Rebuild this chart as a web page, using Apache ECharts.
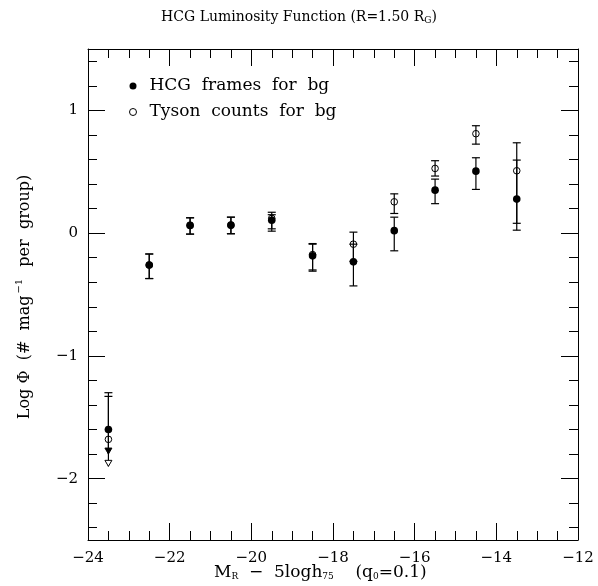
<!DOCTYPE html>
<html>
<head>
<meta charset="utf-8">
<script src="https://cdn.jsdelivr.net/npm/echarts@6/dist/echarts.min.js"></script>
<style>
  html, body { margin: 0; padding: 0; background: #fff; }
  #chart { width: 598px; height: 586px; }
</style>
</head>
<body>
<div id="chart"></div>
<script>
// Magnitude bins (M_R - 5 log h75)
const bins = [-23.5, -22.5, -21.5, -20.5, -19.5, -18.5, -17.5, -16.5, -15.5, -14.5, -13.5];

// HCG frames used for the background
const hcgVal = [-1.60, -0.26, 0.063, 0.065, 0.105, -0.185, -0.234, 0.020, 0.350, 0.505, 0.277];
const hcgHi  = [-1.33, -0.17, 0.125, 0.130, 0.150, -0.090, -0.090, 0.130, 0.440, 0.614, 0.595];
const hcgLo  = [-1.80, -0.37, -0.008, -0.005, 0.016, -0.310, -0.430, -0.144, 0.240, 0.356, 0.024];
const hcgLimit = [1, 0, 0, 0, 0, 0, 0, 0, 0, 0, 0];   // 1 = lower end is an arrow

// Tyson counts used for the background
const tysVal = [-1.68, -0.26, 0.063, 0.065, 0.120, -0.175, -0.090, 0.255, 0.527, 0.810, 0.508];
const tysHi  = [-1.30, -0.17, 0.125, 0.130, 0.170, -0.085, 0.008, 0.320, 0.590, 0.875, 0.736];
const tysLo  = [-1.90, -0.37, -0.008, -0.005, 0.035, -0.300, -0.230, 0.160, 0.465, 0.725, 0.080];
const tysLimit = [1, 0, 0, 0, 0, 0, 0, 0, 0, 0, 0];

// Axis ticks
const yMajor = [-2, -1, 0, 1];
const yMinor = [-2.4, -2.2, -1.8, -1.6, -1.4, -1.2, -0.8, -0.6, -0.4, -0.2,
                0.2, 0.4, 0.6, 0.8, 1.2, 1.4];

const FONT = 'DejaVu Serif';
const minus = v => String(v).replace('-', '\u2212');

function errorBars(filled) {
  return function (params, api) {
    const x = api.value(0), v = api.value(1), lo = api.value(2), hi = api.value(3), lim = api.value(4);
    const pv = api.coord([x, v]);
    const pt = api.coord([x, hi]);
    const pb = api.coord([x, lo]);
    const cw = 4;
    const ln = { stroke: '#000', lineWidth: 1.2 };
    const kids = [
      { type: 'line', shape: { x1: pt[0], y1: pt[1], x2: pb[0], y2: pb[1] }, style: ln },
      { type: 'line', shape: { x1: pt[0] - cw, y1: pt[1], x2: pt[0] + cw, y2: pt[1] }, style: ln }
    ];
    if (lim) {
      kids.push({
        type: 'polygon',
        shape: { points: [[pb[0] - 3.5, pb[1] - 6], [pb[0] + 3.5, pb[1] - 6], [pb[0], pb[1]]] },
        style: { fill: filled ? '#000' : '#fff', stroke: '#000', lineWidth: 1 }
      });
    } else {
      kids.push({ type: 'line', shape: { x1: pb[0] - cw, y1: pb[1], x2: pb[0] + cw, y2: pb[1] }, style: ln });
    }
    kids.push(filled
      ? { type: 'circle', shape: { cx: pv[0], cy: pv[1], r: 3.8 }, style: { fill: '#000' } }
      : { type: 'circle', shape: { cx: pv[0], cy: pv[1], r: 3.3 }, style: { fill: 'none', stroke: '#000', lineWidth: 1 } });
    return { type: 'group', children: kids };
  };
}

const hcgData = bins.map((b, i) => [b, hcgVal[i], hcgLo[i], hcgHi[i], hcgLimit[i]]);
const tysData = bins.map((b, i) => [b, tysVal[i], tysLo[i], tysHi[i], tysLimit[i]]);

const axisLineStyle = { color: '#000', width: 1 };

function xAxisDef(pos, labels) {
  return {
    type: 'value', position: pos, min: -24, max: -12, interval: 2,
    axisLine: { show: true, onZero: false, lineStyle: axisLineStyle },
    axisTick: { show: true, inside: true, length: 17, lineStyle: axisLineStyle },
    minorTick: { show: true, splitNumber: 4, length: 9, lineStyle: axisLineStyle },
    splitLine: { show: false }, minorSplitLine: { show: false },
    axisLabel: labels
      ? { show: true, margin: 11, color: '#000', fontFamily: FONT, fontSize: 15, formatter: minus }
      : { show: false }
  };
}

function yAxisDef(pos, ticks, len, labels) {
  return {
    type: 'value', position: pos, min: -2.5, max: 1.5, interval: 0.5,
    axisLine: { show: len > 10, onZero: false, lineStyle: axisLineStyle },
    axisTick: { show: true, inside: true, length: len, customValues: ticks, lineStyle: axisLineStyle },
    splitLine: { show: false },
    axisLabel: labels
      ? { show: true, margin: 10, color: '#000', fontFamily: FONT, fontSize: 15, customValues: yMajor, formatter: minus }
      : { show: false }
  };
}

const chart = echarts.init(document.getElementById('chart'));
chart.setOption({
  animation: false,
  backgroundColor: '#fff',
  title: {
    left: 'center', top: 5,
    text: '{t|HCG Luminosity Function (R=1.50 R}{s|G}{t|)}',
    textStyle: {
      fontWeight: 'normal',
      rich: {
        t: { fontFamily: FONT, fontSize: 14, fontWeight: 'normal', color: '#000' },
        s: { fontFamily: FONT, fontSize: 9, fontWeight: 'normal', color: '#000', padding: [6, 0, 0, 0] }
      }
    }
  },
  legend: {
    orient: 'vertical', left: 124, top: 72, itemWidth: 7, itemHeight: 7, itemGap: 8,
    formatter: name => name.replace(/ /g, '  '),
    textStyle: { fontFamily: FONT, fontSize: 17, color: '#000', lineHeight: 18, padding: [0, 0, 0, 8] },
    data: [
      { name: 'HCG frames for bg', icon: 'circle', itemStyle: { color: '#000', borderWidth: 0 } },
      { name: 'Tyson counts for bg', icon: 'circle', itemStyle: { color: '#fff', borderColor: '#000', borderWidth: 1 } }
    ]
  },
  grid: { left: 88, right: 20, top: 49, bottom: 46 },
  xAxis: [xAxisDef('bottom', true), xAxisDef('top', false)],
  yAxis: [
    yAxisDef('left', yMajor, 17, true),
    yAxisDef('left', yMinor, 9, false),
    yAxisDef('right', yMajor, 17, false),
    yAxisDef('right', yMinor, 9, false)
  ],
  graphic: [
    {
      type: 'text', left: 214, top: 564,
      style: {
        text: '{t|M}{s|R}{t|  \u2212  5logh}{s|75}{t|    (q}{s|0}{t|=0.1)}',
        rich: {
          t: { fontFamily: FONT, fontSize: 17, color: '#000' },
          s: { fontFamily: FONT, fontSize: 9, color: '#000', padding: [8, 0, 0, 0] }
        }
      }
    },
    {
      type: 'text', x: 25, y: 297, rotation: Math.PI / 2,
      style: {
        text: '{t|Log \u03A6  (#  mag}{p|\u22121}{t|  per  group)}',
        align: 'center', verticalAlign: 'middle',
        rich: {
          t: { fontFamily: FONT, fontSize: 16, color: '#000' },
          p: { fontFamily: FONT, fontSize: 10, color: '#000', padding: [0, 2, 11, 2] }
        }
      }
    }
  ],
  series: [
    {
      name: 'Tyson counts for bg', type: 'custom', xAxisIndex: 0, yAxisIndex: 0,
      renderItem: errorBars(false), data: tysData, z: 2
    },
    {
      name: 'HCG frames for bg', type: 'custom', xAxisIndex: 0, yAxisIndex: 0,
      renderItem: errorBars(true), data: hcgData, z: 3
    }
  ]
});
</script>
</body>
</html>
